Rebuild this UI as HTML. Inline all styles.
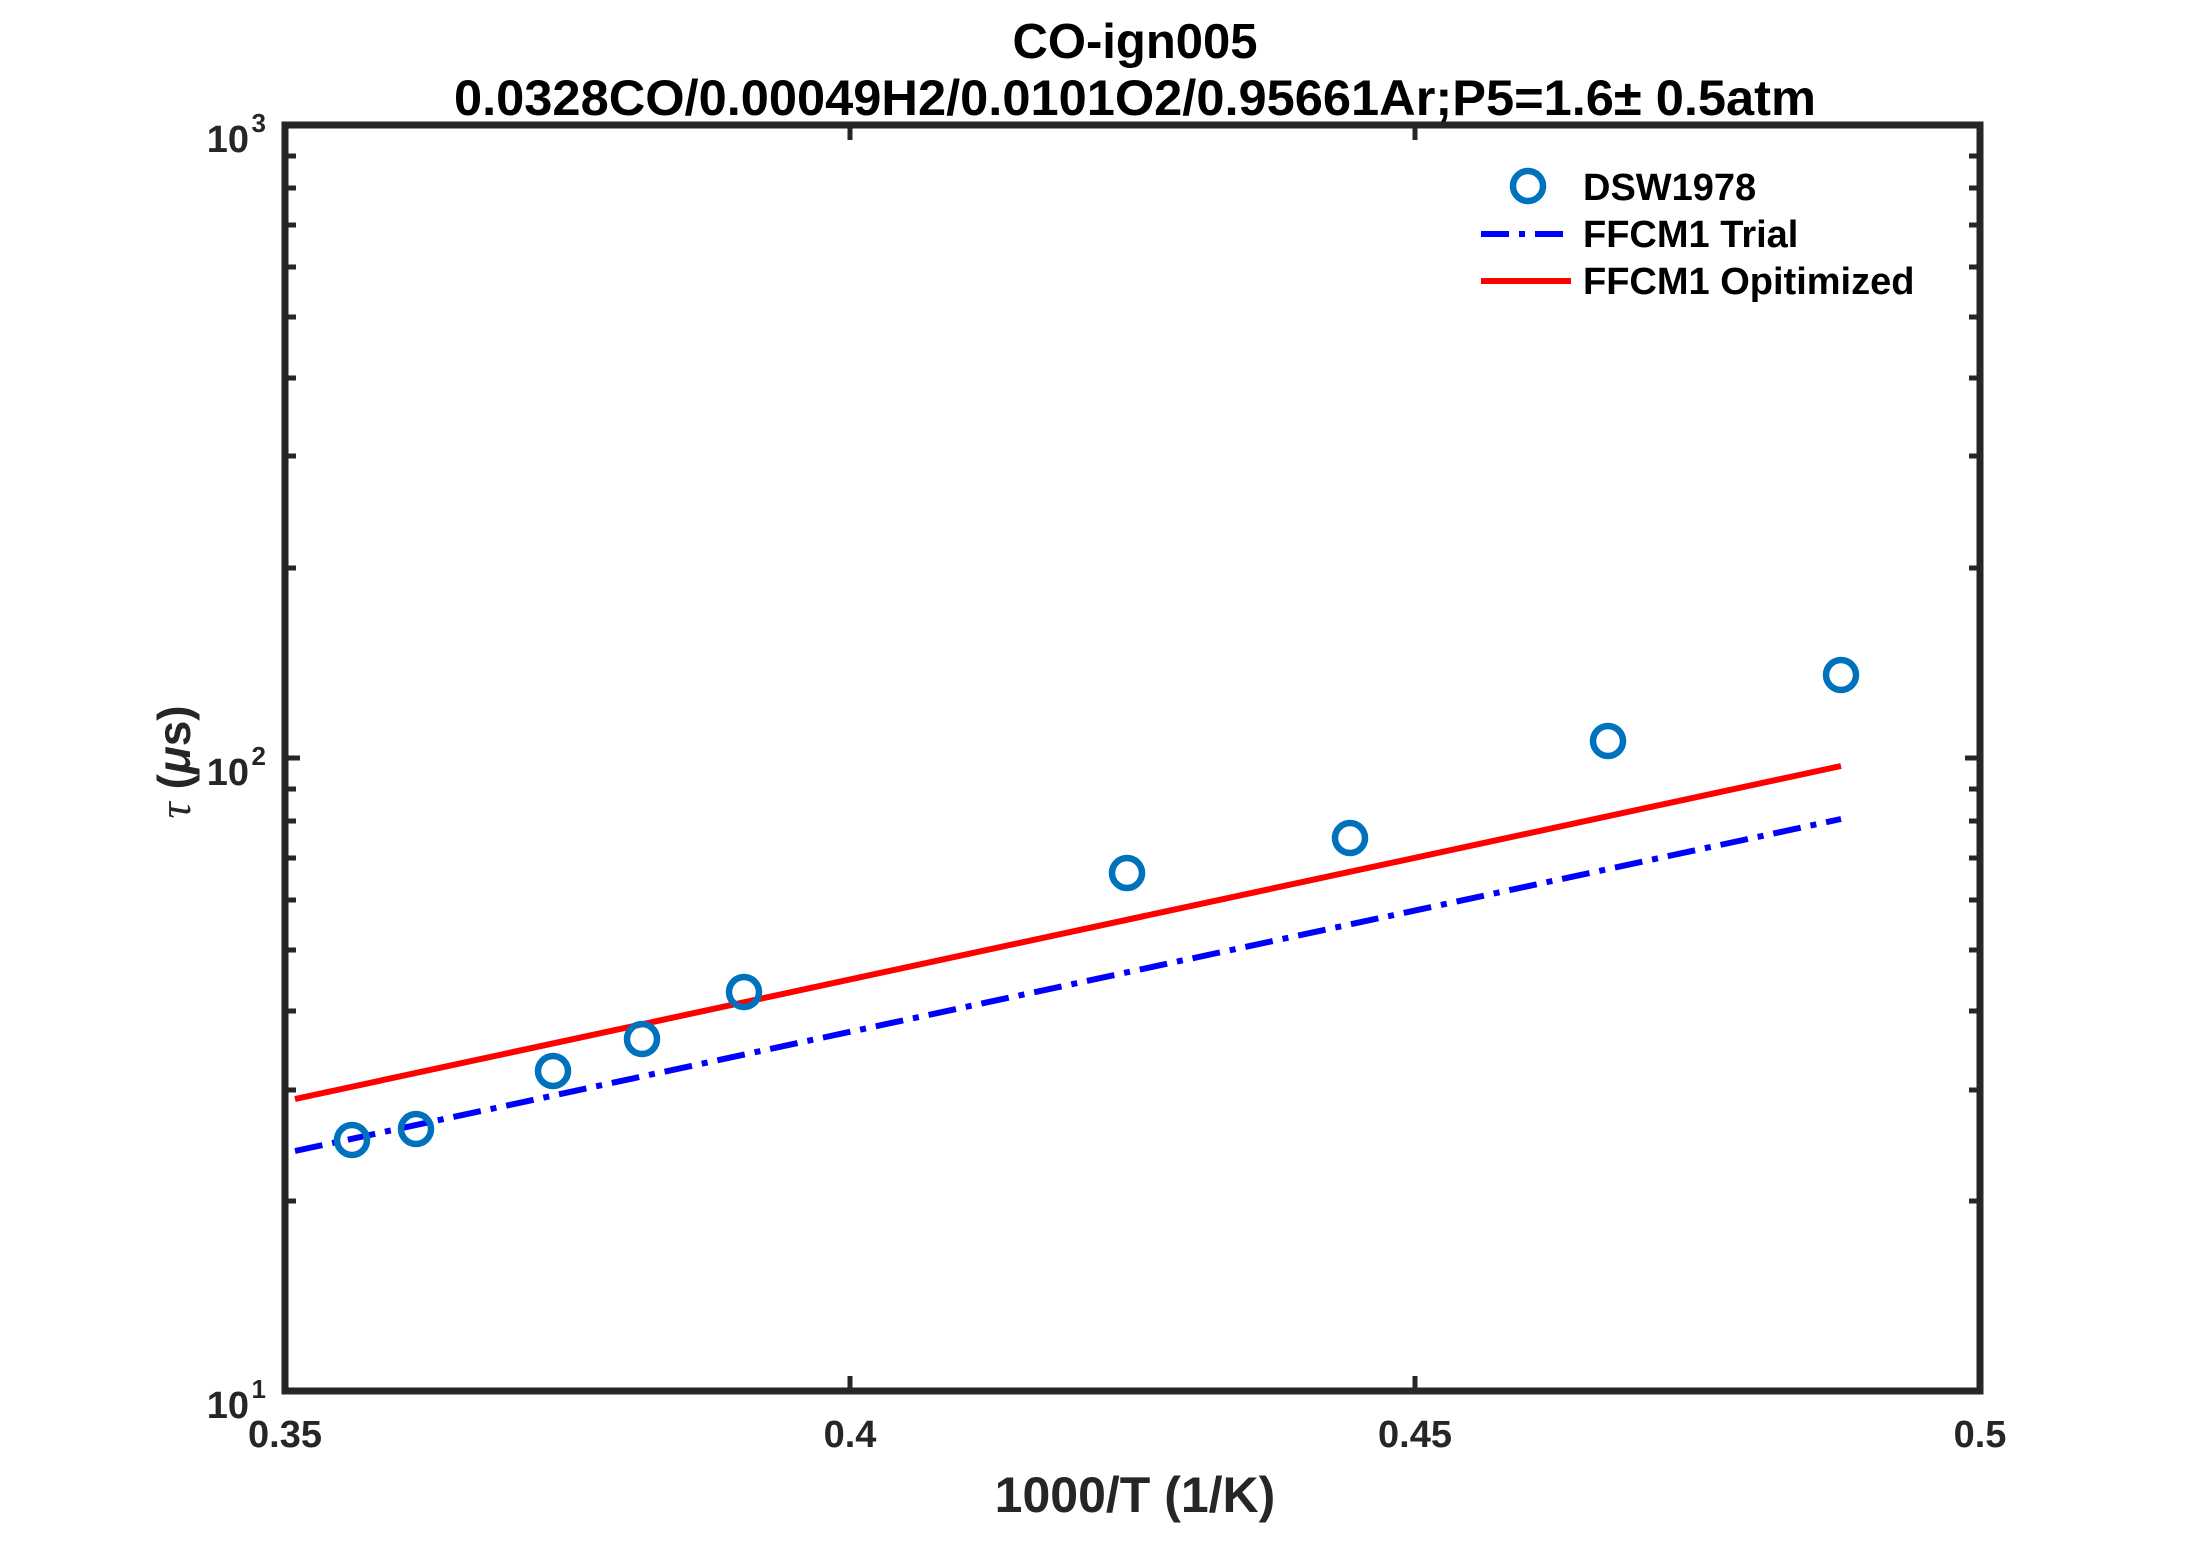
<!DOCTYPE html><html><head><style>body{margin:0;background:#fff}</style></head><body>
<svg width="2187" height="1563" xmlns="http://www.w3.org/2000/svg" font-family="Liberation Sans, sans-serif" font-weight="bold" fill="#262626">
<rect width="2187" height="1563" fill="#fff"/>
<text x="1135" y="58" font-size="49" text-anchor="middle" fill="#000">CO-ign005</text>
<text x="1135" y="115" font-size="50" text-anchor="middle" fill="#000" textLength="1362" lengthAdjust="spacingAndGlyphs">0.0328CO/0.00049H2/0.0101O2/0.95661Ar;P5=1.6± 0.5atm</text>
<g stroke="#262626" stroke-width="5">
<path d="M285 1391 v-15 M850 1391 v-15 M1415 1391 v-15 M1980 1391 v-15 M285 125 v15 M850 125 v15 M1415 125 v15 M1980 125 v15"/>
<path d="
M285 1201 h11 M1980 1201 h-11 M285 1090 h11 M1980 1090 h-11 M285 1011 h11 M1980 1011 h-11 M285 950 h11 M1980 950 h-11 M285 900 h11 M1980 900 h-11 M285 858 h11 M1980 858 h-11 M285 821 h11 M1980 821 h-11 M285 789 h11 M1980 789 h-11 M285 758 h15 M1980 758 h-15
M285 568 h11 M1980 568 h-11 M285 456 h11 M1980 456 h-11 M285 378 h11 M1980 378 h-11 M285 317 h11 M1980 317 h-11 M285 267 h11 M1980 267 h-11 M285 225 h11 M1980 225 h-11 M285 188 h11 M1980 188 h-11 M285 156 h11 M1980 156 h-11"/>
</g>
<rect x="285" y="125" width="1695" height="1266" fill="none" stroke="#262626" stroke-width="7"/>
<path d="M295 1099 L1841 766" stroke="#ff0000" stroke-width="6" fill="none"/>
<path d="M295 1151 L1841 819" stroke="#0000ff" stroke-width="6" fill="none" stroke-dasharray="28 10 6 10"/>
<g fill="none" stroke="#0072BD" stroke-width="6.5">
<circle cx="352" cy="1140" r="15"/><circle cx="416" cy="1129" r="15"/><circle cx="553" cy="1071" r="15"/>
<circle cx="642" cy="1039" r="15"/><circle cx="744" cy="992" r="15"/><circle cx="1127" cy="873" r="15"/>
<circle cx="1350" cy="838" r="15"/><circle cx="1608" cy="741" r="15"/><circle cx="1841" cy="675" r="15"/>
<circle cx="1528" cy="186" r="15"/>
</g>
<path d="M1481 234 H1571" stroke="#0000ff" stroke-width="6" stroke-dasharray="28 10 6 10"/>
<path d="M1481 281 H1571" stroke="#ff0000" stroke-width="6"/>
<g font-size="38" fill="#000">
<text x="1583" y="200">DSW1978</text>
<text x="1583" y="247">FFCM1 Trial</text>
<text x="1583" y="294">FFCM1 Opitimized</text>
</g>
<g font-size="38" text-anchor="middle">
<text x="285" y="1447">0.35</text><text x="850" y="1447">0.4</text><text x="1415" y="1447">0.45</text><text x="1980" y="1447">0.5</text>
</g>
<g font-size="38" text-anchor="end">
<text x="249" y="152">10</text><text x="266" y="132" font-size="26">3</text>
<text x="249" y="785">10</text><text x="266" y="765" font-size="26">2</text>
<text x="249" y="1418">10</text><text x="266" y="1398" font-size="26">1</text>
</g>
<text x="1135" y="1512" font-size="50" text-anchor="middle">1000/T (1/K)</text>
<text transform="translate(190 762) rotate(-90)" font-size="46" text-anchor="middle"><tspan font-style="italic" font-family="Liberation Serif, serif" font-weight="normal">τ</tspan> (<tspan font-style="italic">μ</tspan>s)</text>
</svg>
</body></html>
